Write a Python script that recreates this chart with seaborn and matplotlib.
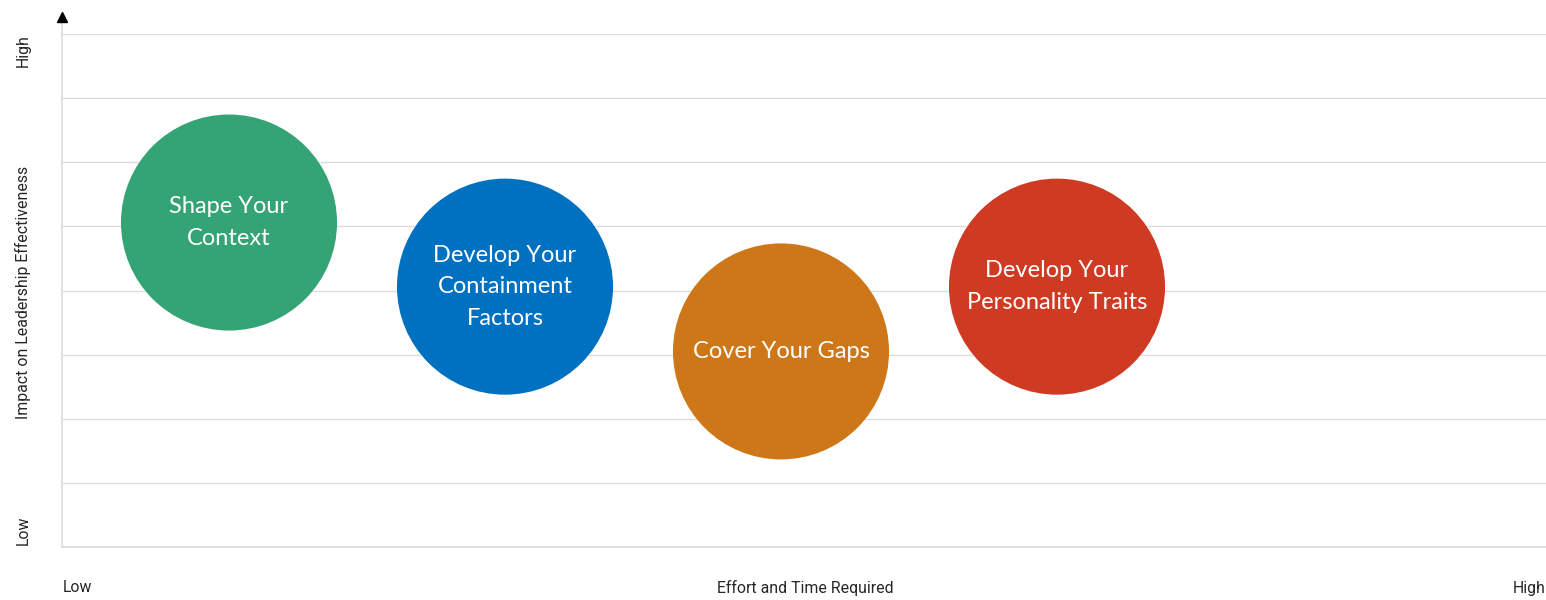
import matplotlib
matplotlib.use("Agg")
import matplotlib.pyplot as plt
import seaborn as sns
import pandas as pd

# chart data
labels = ["Shape Your\nContext", "Develop Your\nContainment\nFactors",
          "Cover Your Gaps", "Develop Your\nPersonality Traits"]
effort = [1, 2, 3, 4]
impact = [5.06, 4.06, 3.05, 4.06]
colors = ["#35A474", "#0070C0", "#CE7718", "#CF3A23"]

x_axis_title = "Effort and Time Required"
y_axis_title = "Impact on Leadership Effectiveness"
low_label, high_label = "Low", "High"

df = pd.DataFrame({"label": labels, "effort": effort, "impact": impact})

sns.set_theme(style="white")
plt.rcParams["font.family"] = ["Roboto", "DejaVu Sans"]

fig = plt.figure(figsize=(15.46, 6.0), dpi=100)
ax = fig.add_axes([62 / 1546, 1 - 547 / 600, 1 - 62 / 1546, 513 / 600])

sns.scatterplot(data=df, x="effort", y="impact", hue="label",
                palette=colors, s=24200, linewidth=0, legend=False,
                ax=ax, zorder=3)

ax.set_xlim(1 - 167 / 276, 1 + (1546 - 229) / 276)
ax.set_ylim(0, 8)
ax.set_yticks(range(0, 9))
ax.set_xticks([])
ax.set_yticklabels([])
ax.tick_params(left=False, bottom=False)
ax.grid(axis="y", color="#dcdcdc", linewidth=1)
ax.set_xlabel("")
ax.set_ylabel("")
for side in ["top", "right"]:
    ax.spines[side].set_visible(False)
for side in ["left", "bottom"]:
    ax.spines[side].set_color("#dcdcdc")
    ax.spines[side].set_linewidth(1.2)

# arrow on the y axis
ax.plot([0, 0], [1, 1.025], transform=ax.transAxes, color="#dcdcdc",
        lw=1.2, clip_on=False)
ax.plot(0, 1.033, marker="^", color="black", markersize=7,
        transform=ax.transAxes, clip_on=False)

for _, row in df.iterrows():
    ax.text(row["effort"], row["impact"], row["label"], ha="center",
            va="center", color="white", fontsize=17, linespacing=1.62,
            family=["Lato", "DejaVu Sans"], zorder=4)

# axis end labels
fig.text(23 / 1546, 1 - 292 / 600, y_axis_title, rotation=90,
         ha="center", va="center", fontsize=11.4)
fig.text(23 / 1546, 1 - 51 / 600, high_label, rotation=90,
         ha="center", va="center", fontsize=11.4)
fig.text(23 / 1546, 1 - 530 / 600, low_label, rotation=90,
         ha="center", va="center", fontsize=11.4)
fig.text(63 / 1546, 1 - 588 / 600, low_label, ha="left", va="center",
         fontsize=11.4)
fig.text(805 / 1546, 1 - 588 / 600, x_axis_title, ha="center",
         va="center", fontsize=11.4)
fig.text(1545 / 1546, 1 - 588 / 600, high_label, ha="right", va="center",
         fontsize=11.4)

fig.savefig("out.png", dpi=100)
